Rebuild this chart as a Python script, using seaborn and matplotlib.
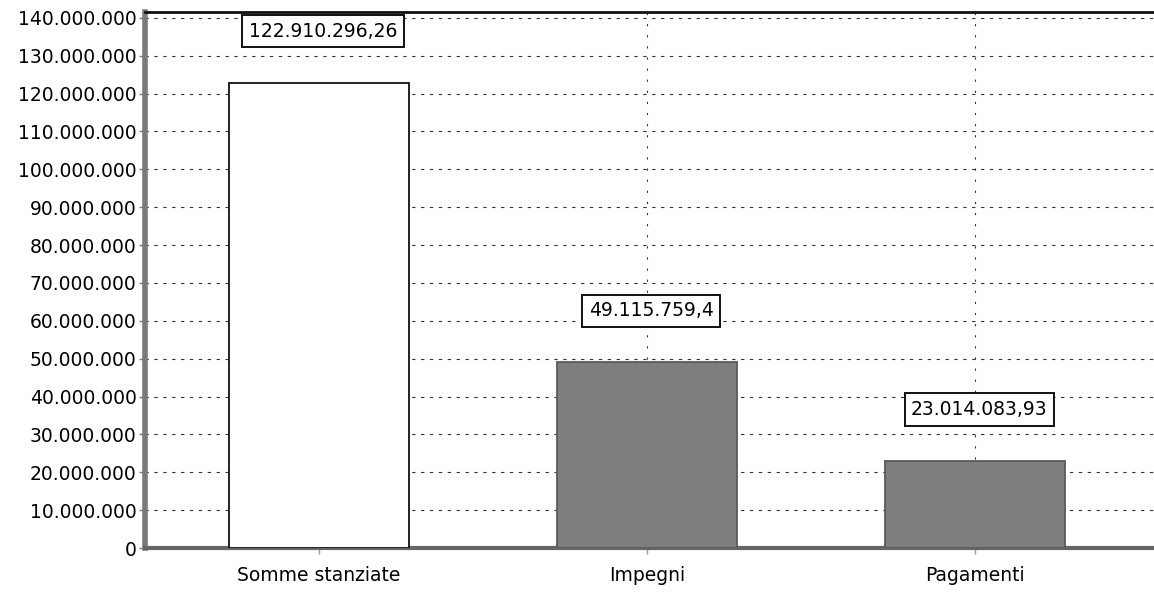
import matplotlib
matplotlib.use("Agg")
import matplotlib.pyplot as plt
import seaborn as sns
from matplotlib.ticker import FuncFormatter, MultipleLocator

categories = ["Somme stanziate", "Impegni", "Pagamenti"]
values = [122910296.26, 49115759.40, 23014083.93]
bar_colors = ["#ffffff", "#7e7e7e", "#7e7e7e"]
edge_colors = ["#111111", "#5a5a5a", "#5a5a5a"]


def it_int(v, _pos=None):
    return f"{v:,.0f}".replace(",", ".")


def it_dec(v):
    s = f"{v:,.2f}".rstrip("0").rstrip(".")
    return s.replace(",", "#").replace(".", ",").replace("#", ".")


sns.set_theme(style="white")
plt.rcParams["font.family"] = ["DejaVu Sans"]

fig = plt.figure(figsize=(11.54, 5.96), dpi=100)
ax = fig.add_axes([0.1257, 0.0805, 0.89, 0.899])

sns.barplot(x=categories, y=values, hue=categories, palette=bar_colors,
            legend=False, width=0.55, ax=ax, zorder=3, saturation=1)
for patch, ec in zip(ax.patches, edge_colors):
    patch.set_edgecolor(ec)
    patch.set_linewidth(1.3)

ax.set_xlim(-0.53, 2.6)
ax.set_ylim(0, 141.5e6)
ax.yaxis.set_major_locator(MultipleLocator(10e6))
ax.yaxis.set_major_formatter(FuncFormatter(it_int))
ax.set_xlabel("")
ax.set_ylabel("")

ax.grid(True, axis="y", linestyle=(0, (3, 5)), color="#333333", linewidth=0.8, zorder=0)
ax.grid(True, axis="x", linestyle=(0, (2, 8)), color="#333333", linewidth=0.8, zorder=0)
ax.set_axisbelow(True)
# the first category's vertical grid line is not drawn
ax.xaxis.get_gridlines()[0].set_visible(False)

ax.tick_params(axis="y", labelsize=13.5, length=4, width=1, color="#777777", pad=2, left=True)
ax.tick_params(axis="x", labelsize=13.5, length=4, width=1, color="#999999", pad=9, bottom=True)
for lbl in ax.get_yticklabels() + ax.get_xticklabels():
    lbl.set_color("#000000")

ax.spines["left"].set_color("#7a7a7a")
ax.spines["left"].set_linewidth(4)
ax.spines["bottom"].set_color("#666666")
ax.spines["bottom"].set_linewidth(3)
ax.spines["top"].set_color("#111111")
ax.spines["top"].set_linewidth(2)
ax.spines["right"].set_visible(False)

for i, v in enumerate(values):
    ax.annotate(it_dec(v), xy=(i, v), xytext=(3, 37), textcoords="offset points",
                ha="center", va="center", fontsize=13.5, color="#000000", zorder=5,
                bbox=dict(boxstyle="square,pad=0.35", facecolor="white",
                          edgecolor="#111111", linewidth=1.4))

fig.savefig("out.png", dpi=100)
